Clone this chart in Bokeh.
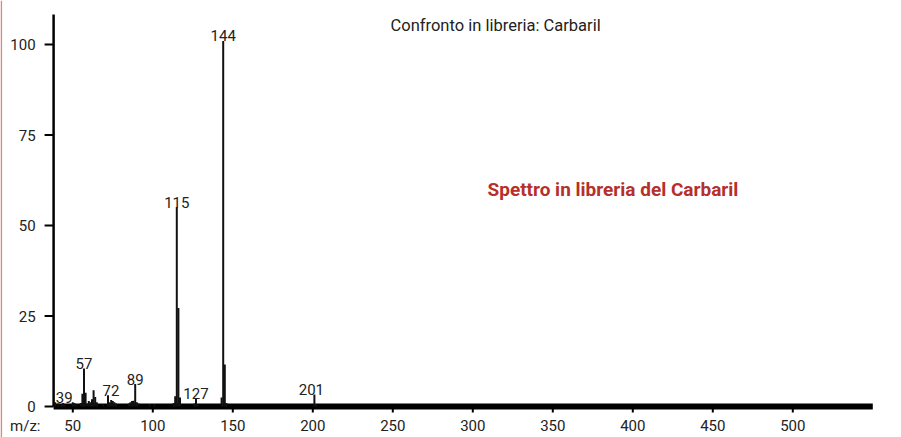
from bokeh.plotting import figure
from bokeh.models import Range1d, ColumnDataSource
from bokeh.embed import file_html
from bokeh.resources import INLINE
from bokeh.core.properties import value

# ---- data ----
mz = [39, 41, 43, 44, 45, 50, 51, 52, 55, 56, 57, 58, 59, 60, 61, 62, 63, 64, 65,
      69, 72, 73, 74, 75, 76, 77, 85, 86, 87, 88, 89, 90, 91, 98, 101,
      113, 114, 115, 116, 117, 126, 127, 128, 143, 144, 145, 146, 201, 202]
intensity = [1.2, 0.8, 0.6, 1.0, 0.5, 1.2, 1.0, 0.5, 1.0, 3.5, 10.5, 3.8, 0.8, 1.5, 1.2, 2.0, 4.5, 2.6, 1.2,
             0.6, 3.1, 1.2, 1.8, 1.5, 1.2, 0.8, 0.8, 1.2, 1.5, 1.6, 6.2, 1.2, 0.8, 0.6, 0.6,
             1.0, 2.8, 55.1, 27.2, 2.5, 0.8, 2.3, 0.6, 2.5, 101.0, 11.6, 1.0, 3.3, 0.6]
label_mz = [39, 57, 72, 89, 115, 127, 144, 201]
label_text = [str(m) for m in label_mz]
x_ticks = [50, 100, 150, 200, 250, 300, 350, 400, 450, 500]
x_tick_labels = [str(t) for t in x_ticks]
y_ticks = [0, 25, 50, 75, 100]
y_tick_labels = [str(t) for t in y_ticks]
x_axis_span = [38, 550]        # m/z extent of the axis
y_axis_top = 108.2             # top of the intensity axis
title_text = "Confronto in libreria: Carbaril"
subtitle_text = "Spettro in libreria del Carbaril"
x_prefix = "m/z:"

FONT = "Roboto"
TXT = "#222222"
W, H = 901, 437
PX_X = 1.6      # pixels per m/z unit
PX_Y = 3.62     # pixels per intensity unit
X_REF_PX, X_REF = 222.7, 144   # pixel column of m/z 144
Y0_PX = 406                    # pixel row of intensity 0


def mx(px):
    """pixel column -> m/z"""
    return X_REF + (px - X_REF_PX) / PX_X


def vy(py):
    """pixel row -> intensity"""
    return (Y0_PX - py) / PX_Y


p = figure(width=W, height=H, output_backend="svg", toolbar_location=None,
           x_range=Range1d(mx(0), mx(W)), y_range=Range1d(vy(H), vy(0)),
           x_axis_location=None, y_axis_location=None,
           min_border_left=0, min_border_right=0, min_border_top=0, min_border_bottom=0)
p.grid.visible = False
p.outline_line_color = None
p.background_fill_color = "white"
p.border_fill_color = "white"

x0, x1 = x_axis_span

# page edge rule (salmon)
p.segment(x0=[mx(0.8)], y0=[vy(0)], x1=[mx(0.8)], y1=[vy(H)], line_color="#d98a80", line_width=1.6)

# ---- axes (drawn through the plot's scales) ----
p.segment(x0=[x0], y0=[0], x1=[x0], y1=[vy(14)], line_color="black", line_width=2.5)
p.segment(x0=[x0] * len(y_ticks), y0=y_ticks, x1=[x0 - 9 / PX_X] * len(y_ticks), y1=y_ticks,
          line_color="black", line_width=2)
p.text(x=[x0] * len(y_ticks), y=y_ticks, text=y_tick_labels, x_offset=-18,
       text_align="right", text_baseline="middle",
       text_font=value(FONT), text_font_size="15px", text_color=TXT)

p.segment(x0=[x0], y0=[0], x1=[x1], y1=[0], line_color="black", line_width=6)
p.segment(x0=x_ticks, y0=[0] * len(x_ticks), x1=x_ticks, y1=[-6 / PX_Y] * len(x_ticks),
          line_color="black", line_width=2)
p.text(x=x_ticks, y=[0] * len(x_ticks), text=x_tick_labels, y_offset=19,
       text_align="center", text_baseline="alphabetic",
       text_font=value(FONT), text_font_size="15px", text_color=TXT)
p.text(x=[mx(40)], y=[0], text=[x_prefix], y_offset=19,
       text_align="right", text_baseline="alphabetic",
       text_font=value(FONT), text_font_size="15px", text_color=TXT)

# ---- spectrum sticks ----
p.segment(x0=mz, y0=0, x1=mz, y1=intensity, line_color="#111111", line_width=2)

# ---- peak labels ----
lookup = dict(zip(mz, intensity))
x_off = {39: 9, 72: 3, 201: -3}
src = ColumnDataSource(dict(
    x=label_mz,
    y=[lookup[m] for m in label_mz],
    text=label_text,
    xo=[x_off.get(m, 0) for m in label_mz],
))
p.text(x="x", y="y", text="text", source=src, x_offset="xo", y_offset=-5,
       text_align="center", text_baseline="alphabetic",
       text_font=value(FONT), text_font_size="15px", text_color=TXT)

# ---- titles ----
p.text(x=[mx(390)], y=[vy(25)], text=[title_text],
       text_align="left", text_baseline="middle",
       text_font=value(FONT), text_font_size="16.5px", text_color=TXT)
p.text(x=[mx(487)], y=[vy(188.5)], text=[subtitle_text],
       text_align="left", text_baseline="middle",
       text_font=value(FONT), text_font_size="19px", text_font_style="bold",
       text_color="#b5302a")

open("out.html", "w").write(file_html(p, INLINE))
